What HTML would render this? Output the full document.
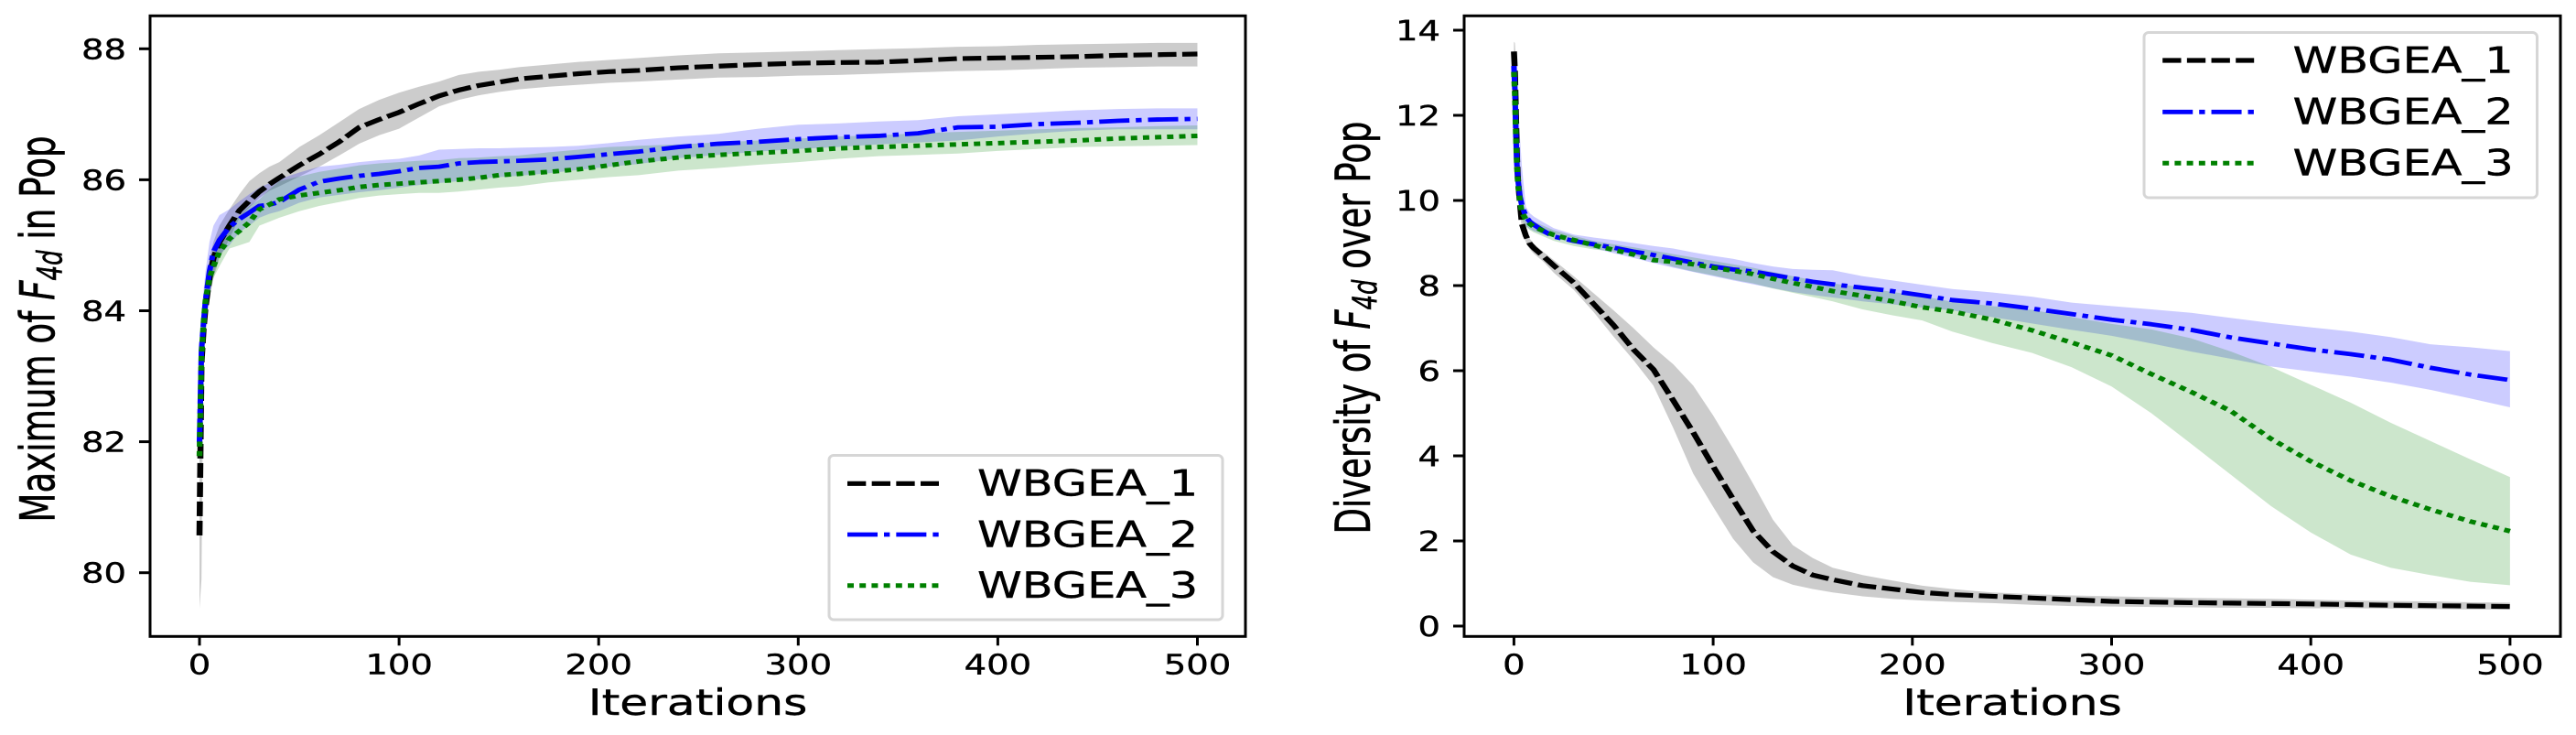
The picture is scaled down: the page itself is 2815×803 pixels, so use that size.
<!DOCTYPE html>
<html lang="en">
<head>
<meta charset="utf-8">
<title>WBGEA comparison charts</title>
<style>
html,body{margin:0;padding:0;background:#fff;width:2815px;height:803px;overflow:hidden}
svg{display:block}
text{font-family:"DejaVu Sans","Liberation Sans",sans-serif;fill:#000;stroke:#000;stroke-width:.4px}
</style>
</head>
<body>
<svg id="figure" xmlns="http://www.w3.org/2000/svg" width="2815" height="803" viewBox="0 0 2815 803"></svg>
<script>
const seriesNames = ["WBGEA_1", "WBGEA_2", "WBGEA_3"];
const xTickLabels = [0, 100, 200, 300, 400, 500];

/* Left chart: Maximum of F4d in Pop */
const maxTickLabels = [80, 82, 84, 86, 88];
const maxIterations = [0,1,2,3,5,7,10,15,20,25,30,35,40,50,60,70,80,90,100,110,120,130,140,150,160,175,190,205,220,240,260,280,300,320,340,360,380,400,420,440,460,480,500];
const maxMean1 = [80.57,83.2,83.7,84.05,84.5,84.8,85.05,85.3,85.53,85.68,85.82,85.93,86.03,86.22,86.39,86.58,86.8,86.92,87.03,87.16,87.28,87.37,87.44,87.49,87.54,87.58,87.62,87.65,87.67,87.71,87.735,87.76,87.78,87.79,87.795,87.82,87.85,87.86,87.87,87.88,87.9,87.91,87.92];
const maxHigh1 = [81.7,83.5,84,84.35,84.8,85.05,85.3,85.55,85.78,85.98,86.1,86.2,86.27,86.5,86.68,86.88,87.08,87.22,87.33,87.42,87.5,87.6,87.65,87.68,87.72,87.76,87.8,87.83,87.86,87.9,87.93,87.945,87.96,87.98,87.995,88.01,88.03,88.04,88.06,88.07,88.08,88.09,88.09];
const maxLow1 = [79.45,79.9,83.4,83.75,84.2,84.5,84.8,85.1,85.42,85.58,85.72,85.83,85.9,86.05,86.2,86.37,86.55,86.68,86.78,86.95,87.12,87.22,87.29,87.34,87.38,87.42,87.45,87.48,87.5,87.53,87.56,87.57,87.59,87.6,87.62,87.64,87.66,87.67,87.69,87.71,87.72,87.73,87.73];
const maxMean2 = [81.99,83.4,83.8,84.15,84.6,84.9,85.08,85.28,85.4,85.5,85.6,85.62,85.66,85.85,85.97,86.02,86.06,86.09,86.13,86.18,86.2,86.25,86.27,86.28,86.29,86.31,86.35,86.39,86.43,86.5,86.55,86.58,86.62,86.65,86.67,86.71,86.8,86.81,86.85,86.87,86.9,86.92,86.93];
const maxHigh2 = [82.2,83.7,84.3,84.6,85.05,85.3,85.46,85.55,85.67,85.78,85.88,85.95,86.01,86.11,86.2,86.23,86.27,86.3,86.32,86.37,86.46,86.47,86.48,86.48,86.49,86.5,86.52,86.56,86.61,86.66,86.7,86.78,86.84,86.86,86.89,86.91,86.97,87,87.03,87.06,87.08,87.09,87.09];
const maxLow2 = [81.6,83.1,83.5,83.8,84.2,84.55,84.85,85,85.2,85.3,85.42,85.48,85.52,85.65,85.73,85.77,85.81,85.84,85.88,85.92,85.95,85.98,86.01,86.04,86.06,86.1,86.15,86.2,86.24,86.33,86.38,86.43,86.47,86.5,86.54,86.57,86.6,86.66,86.71,86.75,86.77,86.77,86.77];
const maxMean3 = [81.78,83.3,83.8,84.15,84.5,84.68,84.9,85.1,85.22,85.35,85.55,85.62,85.7,85.76,85.8,85.84,85.89,85.92,85.94,85.96,85.98,86,86.03,86.07,86.09,86.12,86.16,86.22,86.28,86.34,86.38,86.41,86.44,86.48,86.5,86.52,86.54,86.56,86.58,86.6,86.63,86.65,86.67];
const maxHigh3 = [82,83.5,83.95,84.3,84.7,84.85,85,85.3,85.45,85.6,85.7,85.85,85.98,86.05,86.12,86.17,86.22,86.25,86.27,86.29,86.3,86.33,86.34,86.36,86.37,86.42,86.46,86.5,86.52,86.54,86.57,86.6,86.63,86.66,86.68,86.71,86.73,86.75,86.77,86.79,86.8,86.82,86.83];
const maxLow3 = [81.5,83,83.5,83.85,84.25,84.5,84.68,84.95,85,85.05,85.3,85.36,85.42,85.52,85.6,85.66,85.72,85.76,85.78,85.8,85.8,85.82,85.85,85.88,85.9,85.96,86,86.04,86.07,86.14,86.18,86.23,86.27,86.32,86.36,86.38,86.4,86.44,86.47,86.5,86.51,86.52,86.53];

/* Right chart: Diversity of F4d over Pop */
const divTickLabels = [0, 2, 4, 6, 8, 10, 12, 14];
const divIterations = [0,0.5,1,1.5,2,3,4,6,8,10,15,20,30,40,50,60,70,80,90,100,110,120,130,140,150,160,175,190,205,220,240,260,280,300,320,340,360,380,400,420,440,460,480,500];
const divMean1 = [13.5,13,12,11,10.5,9.95,9.45,9.17,8.98,8.88,8.68,8.47,8.07,7.57,7.07,6.5,6.03,5.3,4.55,3.75,2.98,2.24,1.75,1.41,1.2,1.09,0.95,0.87,0.79,0.74,0.7,0.66,0.62,0.58,0.565,0.55,0.54,0.53,0.52,0.505,0.49,0.48,0.47,0.46];
const divHigh1 = [13.73,13.7,13.3,12.4,11.6,10.4,9.7,9.3,9.1,8.98,8.78,8.6,8.22,7.82,7.42,7,6.55,6.15,5.65,4.95,4.17,3.35,2.5,1.9,1.6,1.37,1.2,1.07,0.95,0.87,0.79,0.75,0.72,0.7,0.68,0.66,0.65,0.64,0.62,0.6,0.59,0.58,0.56,0.55];
const divLow1 = [13.25,12.6,11.5,10.6,10.2,9.75,9.3,9.02,8.85,8.75,8.55,8.3,7.9,7.38,6.8,6.25,5.65,4.65,3.58,2.8,2.05,1.5,1.15,0.97,0.87,0.79,0.7,0.64,0.6,0.57,0.54,0.5,0.47,0.46,0.45,0.44,0.43,0.43,0.42,0.42,0.41,0.4,0.39,0.39];
const divMean2 = [13.16,12.59,11.5,10.85,10.5,10.1,9.88,9.62,9.5,9.43,9.28,9.15,9.05,8.97,8.89,8.8,8.72,8.63,8.54,8.45,8.38,8.33,8.25,8.17,8.09,8.03,7.95,7.87,7.77,7.66,7.58,7.46,7.33,7.2,7.09,6.96,6.78,6.64,6.5,6.39,6.26,6.07,5.91,5.78];
const divHigh2 = [13.3,13.3,13,12.7,12.3,11.5,10.8,9.85,9.7,9.62,9.48,9.35,9.2,9.13,9.07,9,8.93,8.87,8.78,8.7,8.63,8.53,8.45,8.39,8.37,8.36,8.22,8.12,8.02,7.92,7.84,7.74,7.6,7.52,7.44,7.36,7.24,7.12,7.02,6.92,6.79,6.62,6.55,6.46];
const divLow2 = [12.9,12.3,11.1,10.6,10.2,9.85,9.65,9.4,9.33,9.28,9.2,9.13,9,8.88,8.76,8.65,8.53,8.42,8.32,8.22,8.12,8.03,7.94,7.85,7.78,7.72,7.63,7.56,7.48,7.42,7.26,7.11,6.96,6.82,6.64,6.45,6.28,6.1,5.98,5.86,5.72,5.55,5.35,5.14];
const divMean3 = [13.02,12.44,11.5,10.8,10.4,9.98,9.72,9.55,9.45,9.38,9.28,9.19,9.07,8.95,8.84,8.73,8.6,8.56,8.5,8.42,8.35,8.27,8.16,8.06,7.97,7.87,7.76,7.63,7.49,7.39,7.2,6.95,6.66,6.36,5.92,5.5,5.05,4.4,3.87,3.42,3.05,2.74,2.46,2.23];
const divHigh3 = [13.2,12.7,11.75,11,10.6,10.15,9.9,9.7,9.58,9.5,9.4,9.3,9.17,9.05,8.97,8.9,8.82,8.74,8.66,8.58,8.5,8.42,8.32,8.22,8.13,8.05,7.96,7.85,7.75,7.62,7.52,7.43,7.26,7.1,6.97,6.76,6.45,6.09,5.67,5.25,4.78,4.35,3.92,3.5];
const divLow3 = [12.8,12.1,11.2,10.6,10.2,9.8,9.55,9.38,9.3,9.25,9.15,9.05,8.93,8.85,8.8,8.71,8.58,8.44,8.33,8.24,8.14,8.05,7.93,7.83,7.73,7.63,7.44,7.3,7.18,6.92,6.65,6.42,6.08,5.63,5,4.28,3.55,2.82,2.2,1.68,1.37,1.2,1.04,0.96];

const STRETCH = 1.27;
const NS = "http://www.w3.org/2000/svg";
const figure = document.getElementById("figure");
const colors = ["#000000", "#0000ff", "#008000"];
const dashes = ["16 5", "26 5.5 5 5.5", "5.5 4.9"];
const widths = [5.2, 4.8, 5];

function make(parent, tag, attrs) {
  const node = document.createElementNS(NS, tag);
  for (const key in attrs) node.setAttribute(key, attrs[key]);
  parent.appendChild(node);
  return node;
}

function stretchedText(parent, content, x, y, size, sx, anchor) {
  const node = make(parent, "text", {
    transform: "translate(" + x + "," + y + ") scale(" + sx + ",1)",
    "font-size": size,
    "text-anchor": anchor
  });
  node.textContent = content;
  return node;
}

function drawChart(cfg) {
  const group = make(figure, "g", {});
  
  

  const xAxis = v => cfg.x0 + cfg.xPerUnit * v;
  const yAxis = v => cfg.y0 - cfg.yPerUnit * (v - cfg.yBase);

  cfg.bands.forEach((band, s) => {
    const top = cfg.iterations.map((it, i) => xAxis(it).toFixed(2) + "," + yAxis(band.high[i]).toFixed(2));
    const bottom = cfg.iterations.map((it, i) => xAxis(it).toFixed(2) + "," + yAxis(band.low[i]).toFixed(2)).reverse();
    const area = make(group, "polygon", {
      points: top.concat(bottom).join(" "),
      fill: colors[s],
      "fill-opacity": 0.2,
      stroke: "none"
    });
    
    
  });

  const lineGroup = make(group, "g", { transform: "scale(" + STRETCH + ",1)" });
  cfg.bands.forEach((band, s) => {
    const d = cfg.iterations.map((it, i) =>
      (i ? "L" : "M") + (xAxis(it) / STRETCH).toFixed(2) + " " + yAxis(band.mean[i]).toFixed(2)).join(" ");
    const line = make(lineGroup, "path", {
      d: d,
      fill: "none",
      stroke: colors[s],
      "stroke-width": widths[s],
      "stroke-dasharray": dashes[s],
      "stroke-linejoin": "round"
    });
    
    
  });

  const frame = make(group, "rect", {
    x: cfg.left, y: cfg.top,
    width: cfg.right - cfg.left, height: cfg.bottom - cfg.top,
    fill: "none", stroke: "#000", "stroke-width": 3
  });
  
  

  xTickLabels.forEach(v => {
    const px = xAxis(v);
    const tick = make(group, "line", { x1: px, x2: px, y1: cfg.bottom, y2: cfg.bottom + 10, stroke: "#000", "stroke-width": 3 });
    
    
    const label = stretchedText(group, String(v), px, 736.7, 30.6, 1.26, "middle");
    
    
  });

  cfg.yTicks.forEach(v => {
    const py = yAxis(v);
    const tick = make(group, "line", { x1: cfg.left - 12, x2: cfg.left, y1: py, y2: py, stroke: "#000", "stroke-width": 3 });
    
    
    const label = stretchedText(group, String(v), cfg.left - 26, py + 11, 30.6, 1.26, "end");
    
    
  });

  const xTitle = stretchedText(group, "Iterations", (cfg.left + cfg.right) / 2, 781, 39, 1.29, "middle");
  
  

  const yTitle = make(group, "text", {
    transform: "translate(" + cfg.yTitleX + "," + cfg.yTitleY + ") scale(" + cfg.yTitleStretch + ",1) rotate(-90)",
    "font-size": cfg.yTitleSize,
    "text-anchor": "middle"
  });
  
  
  const t1 = make(yTitle, "tspan", {});
  t1.textContent = cfg.yTitleStart + " ";
  const t2 = make(yTitle, "tspan", { "font-style": "italic" });
  t2.textContent = "F";
  const t3 = make(yTitle, "tspan", { "font-style": "italic", "font-size": cfg.yTitleSize * 0.7, dy: cfg.yTitleSize * 0.15 });
  t3.textContent = "4d";
  const t4 = make(yTitle, "tspan", { dy: -cfg.yTitleSize * 0.15 });
  t4.textContent = " " + cfg.yTitleEnd;

  const L = cfg.legend;
  const legend = make(group, "g", {});
  
  
  const box = make(legend, "rect", {
    x: L.x1, y: L.y1, width: L.x2 - L.x1, height: L.y2 - L.y1, rx: 5, ry: 5,
    fill: "#fff", stroke: "#d6d6d6", "stroke-width": 3
  });
  
  
  const legendLines = make(legend, "g", { transform: "scale(" + STRETCH + ",1)" });
  seriesNames.forEach((name, s) => {
    const sample = make(legendLines, "line", {
      x1: L.lineX1 / STRETCH, x2: L.lineX2 / STRETCH, y1: L.rows[s], y2: L.rows[s],
      stroke: colors[s], "stroke-width": widths[s], "stroke-dasharray": dashes[s]
    });
    
    
    const label = stretchedText(legend, name, L.textX, L.rows[s] + 13.3, 39.5, 1.25, "start");
    
    
  });
}

drawChart({
  name: "maximum-chart",
  left: 164, right: 1361, top: 17.3, bottom: 695.3,
  x0: 218, xPerUnit: 2.181,
  y0: 625.7, yBase: 80, yPerUnit: 71.55,
  iterations: maxIterations,
  yTicks: maxTickLabels,
  bands: [
    { mean: maxMean1, high: maxHigh1, low: maxLow1 },
    { mean: maxMean2, high: maxHigh2, low: maxLow2 },
    { mean: maxMean3, high: maxHigh3, low: maxLow3 }
  ],
  yTitleStart: "Maximum of", yTitleEnd: "in Pop",
  yTitleX: 59.4, yTitleY: 359.5, yTitleSize: 37.2, yTitleStretch: 1.42,
  legend: { x1: 906, x2: 1336, y1: 497.5, y2: 677, lineX1: 926, lineX2: 1026, textX: 1068, rows: [528.3, 584, 639.7] }
});

drawChart({
  name: "diversity-chart",
  left: 1600, right: 2798, top: 17.3, bottom: 695.3,
  x0: 1654.4, xPerUnit: 2.177,
  y0: 684, yBase: 0, yPerUnit: 46.5,
  iterations: divIterations,
  yTicks: divTickLabels,
  bands: [
    { mean: divMean1, high: divHigh1, low: divLow1 },
    { mean: divMean2, high: divHigh2, low: divLow2 },
    { mean: divMean3, high: divHigh3, low: divLow3 }
  ],
  yTitleStart: "Diversity of", yTitleEnd: "over Pop",
  yTitleX: 1496.8, yTitleY: 358, yTitleSize: 37, yTitleStretch: 1.42,
  legend: { x1: 2343, x2: 2772.5, y1: 35.5, y2: 216, lineX1: 2363.2, lineX2: 2463.2, textX: 2505.5, rows: [66, 122.3, 178.3] }
});
</script>
</body>
</html>
